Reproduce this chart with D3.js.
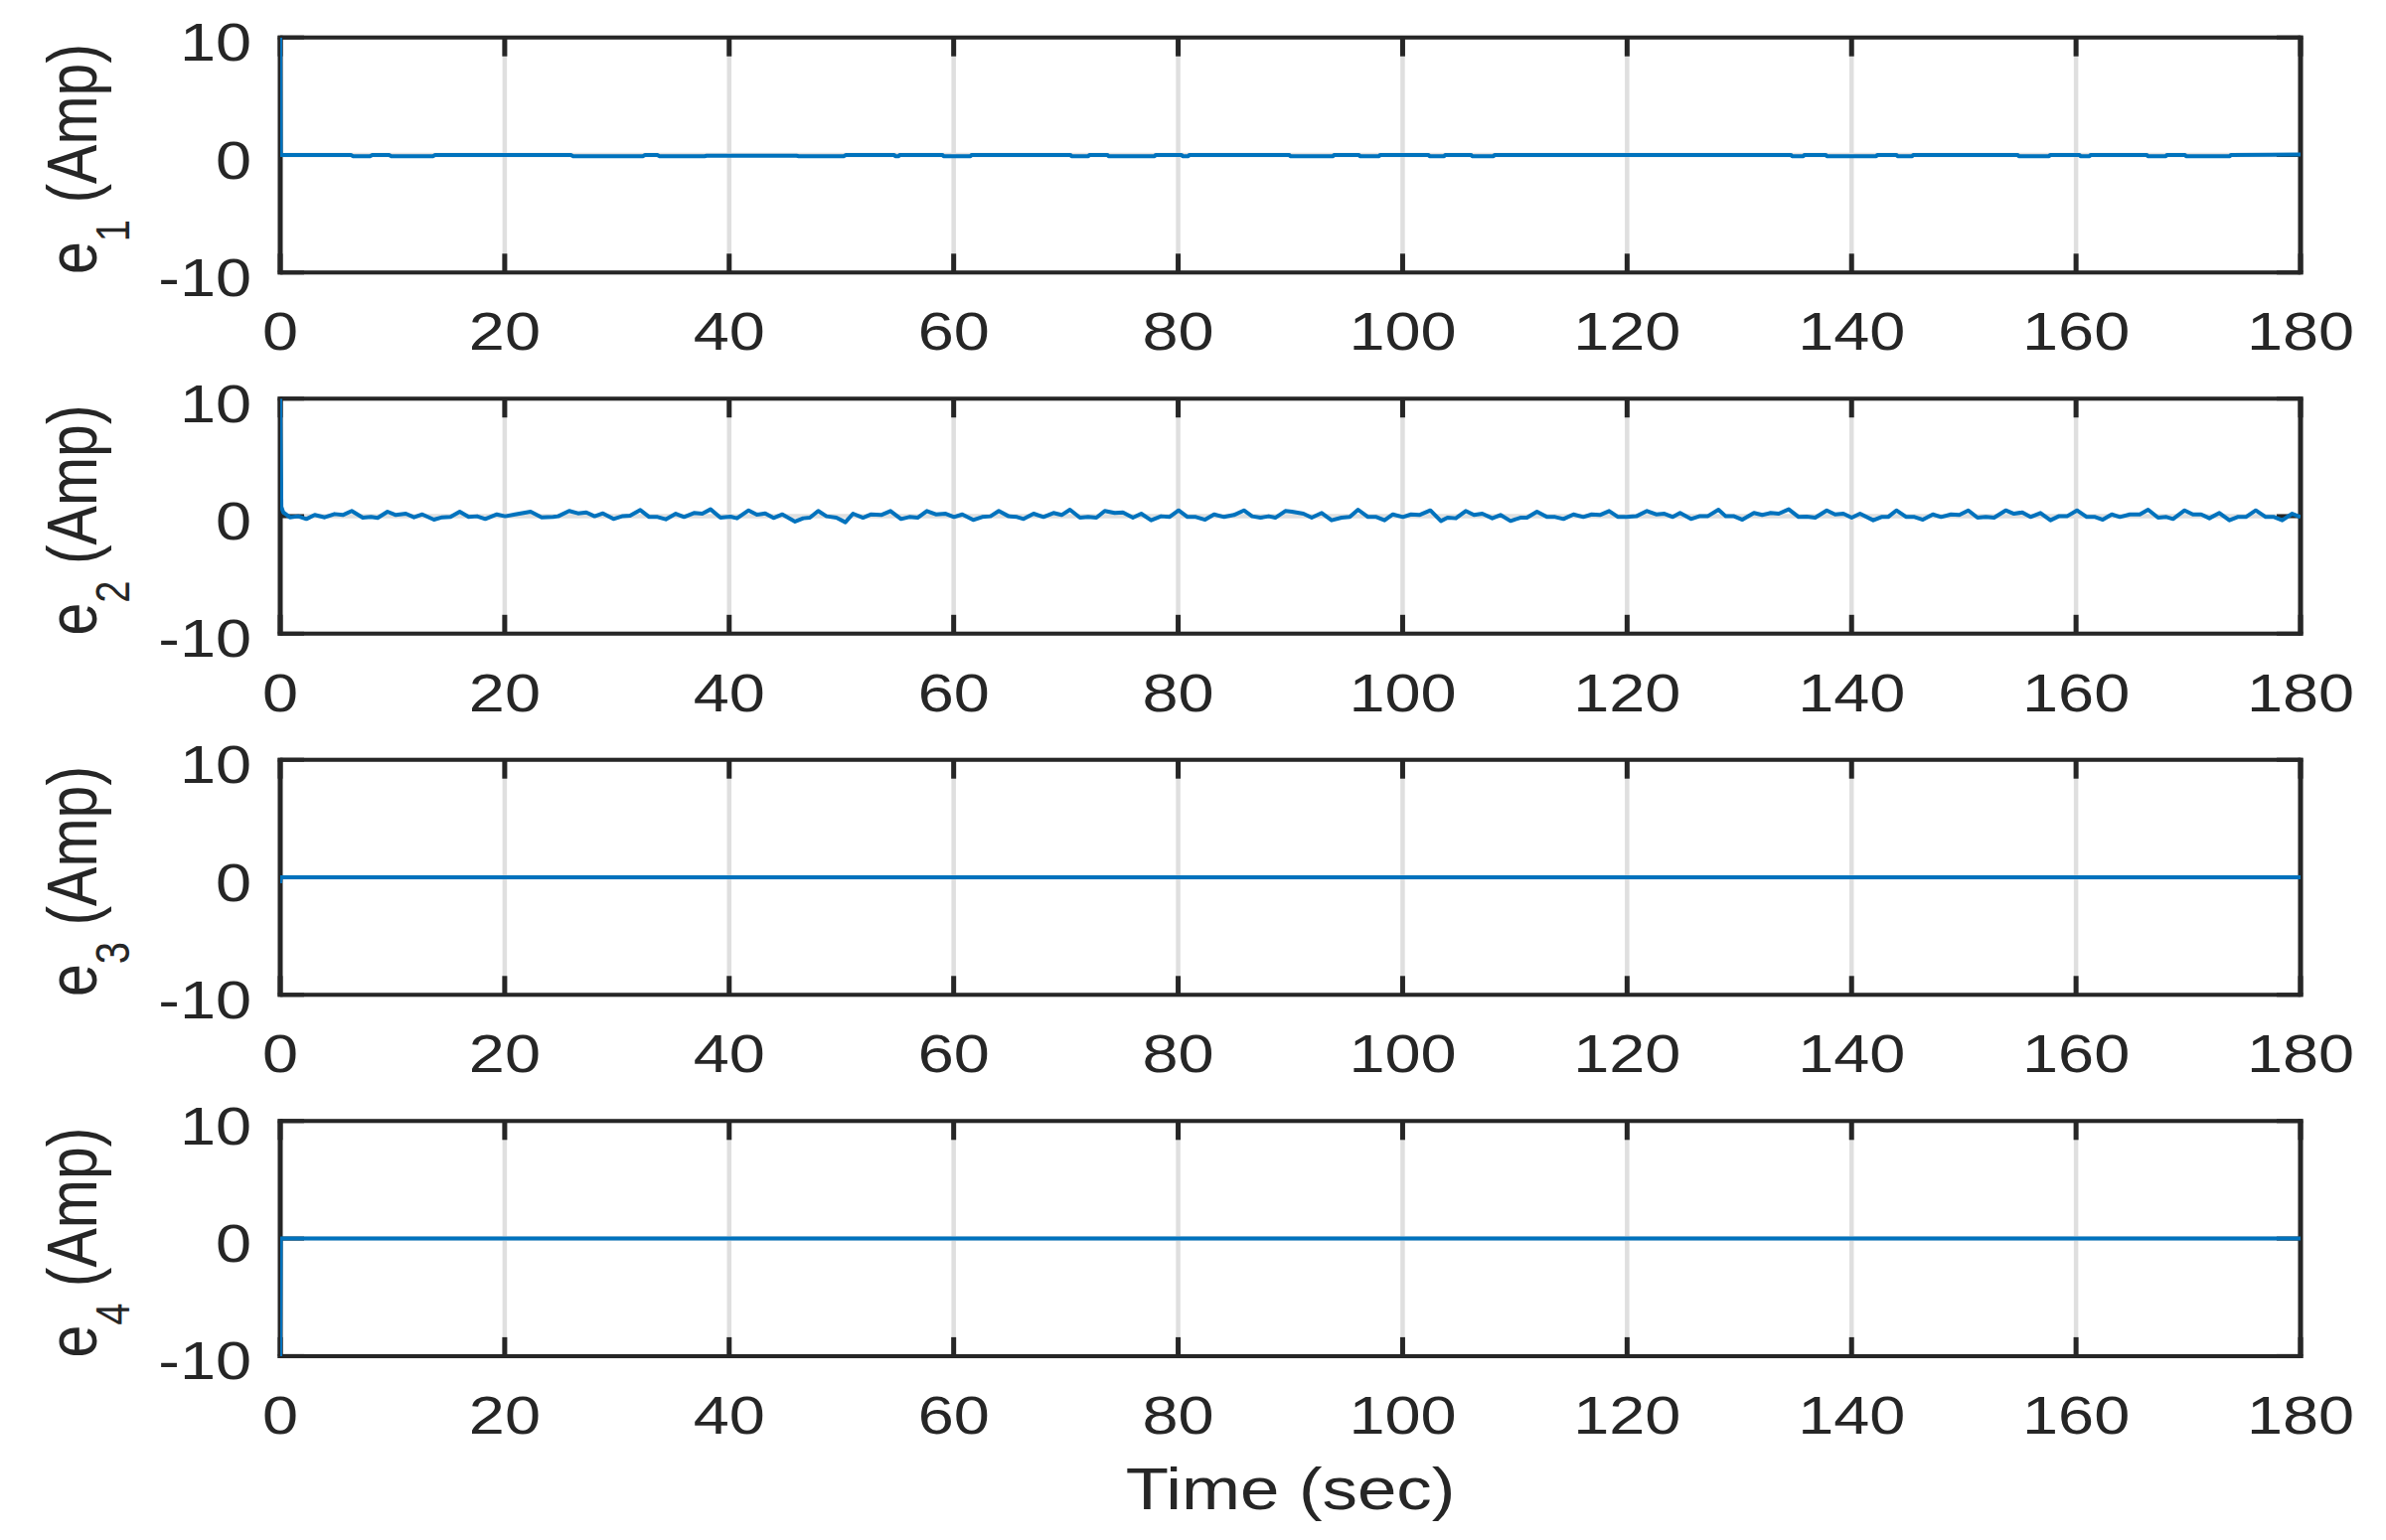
<!DOCTYPE html>
<html>
<head>
<meta charset="utf-8">
<script src="https://cdn.jsdelivr.net/npm/d3@7"></script>
<style>
html,body{margin:0;padding:0;background:#ffffff;}
svg{display:block;}
</style>
</head>
<body>
<svg id="chart" width="2401" height="1550"></svg>
<script>
// ---------------- data ----------------
const xTicks = [0, 20, 40, 60, 80, 100, 120, 140, 160, 180];
const yTicks = [-10, 0, 10];
const xTickLabels = ["0","20","40","60","80","100","120","140","160","180"];
const yTickLabels = ["-10","0","10"];
const subscripts = ["1", "2", "3", "4"];
const xAxisTitle = "Time (sec)";

// e1 (Amp): [time, value]
const e1Series = [[0,10],[0.05,0],[6.3,0],[6.5,-0.1],[8.0,-0.1],[8.2,0],[9.7,0],[9.9,-0.1],[13.6,-0.1],[13.8,0],
 [25.9,0],[26.1,-0.1],[32.3,-0.1],[32.5,0],[33.6,0],[33.8,-0.1],[37.8,-0.1],[38.0,-0.06],[46.0,-0.06],[46.2,-0.1],
 [50.2,-0.1],[50.4,0],[54.7,0],[54.8,-0.1],[55.1,-0.1],[55.2,0],[59.0,0],[59.1,-0.1],[61.5,-0.1],[61.6,0],
 [70.4,0],[70.5,-0.1],[72.0,-0.1],[72.1,0],[73.7,0],[73.8,-0.1],[77.9,-0.1],[78.0,0],[80.3,0],[80.4,-0.1],
 [80.9,-0.1],[81.0,0],[89.9,0],[90.0,-0.1],[93.8,-0.1],[93.9,0],[96.1,0],[96.2,-0.1],[97.9,-0.1],[98.0,0],
 [102.3,0],[102.4,-0.1],[103.7,-0.1],[103.8,0],[106.1,0],[106.2,-0.1],[108.1,-0.1],[108.2,0],[134.6,0],[134.7,-0.1],
 [135.7,-0.1],[135.8,0],[137.7,0],[137.8,-0.1],[142.2,-0.1],[142.3,0],[144.0,0],[144.1,-0.1],[145.4,-0.1],[145.5,0],
 [154.8,0],[154.9,-0.1],[157.6,-0.1],[157.7,0],[160.3,0],[160.4,-0.1],[161.2,-0.1],[161.3,0],[166.3,0],[166.4,-0.1],
 [168.0,-0.1],[168.1,0],[169.7,0],[169.8,-0.1],[173.7,-0.1],[173.8,0],[180,0.05]];

// e2 (Amp): [time, value]
const e2Series = [[0,10],[0.1,0.8],[0.27,0.32],[0.86,-0.1],[1.59,-0.01],[2.33,-0.24],[3.07,0.1],[3.96,-0.1],[4.84,0.18],[5.58,0.1],
 [6.37,0.44],[7.35,-0.13],[8.09,-0.07],[8.68,-0.15],[9.56,0.38],[10.3,0.1],[11.19,0.21],[11.92,-0.1],[12.66,0.15],[13.69,-0.3],
 [14.43,-0.1],[15.17,-0.07],[15.99,0.38],[16.79,-0.07],[17.53,-0.01],[18.27,-0.24],[19.3,0.15],[20.04,-0.01],[20.92,0.15],[22.31,0.38],
 [23.29,-0.1],[24.32,-0.07],[24.76,-0.01],[25.74,0.44],[26.53,0.24],[27.27,0.32],[28.01,-0.01],[28.75,0.24],[29.69,-0.24],[30.52,0.01],
 [31.17,0.04],[32.08,0.52],[32.88,-0.07],[33.62,-0.07],[34.35,-0.27],[35.24,0.21],[35.98,-0.07],[36.86,0.27],[37.6,0.21],[38.34,0.58],
 [39.22,-0.13],[40.11,-0.04],[40.7,-0.18],[41.73,0.49],[42.47,0.13],[43.21,0.24],[43.95,-0.15],[44.74,0.15],[45.87,-0.46],[46.6,-0.18],
 [47.19,-0.13],[47.93,0.44],[48.67,-0.01],[49.55,-0.13],[50.35,-0.52],[51.03,0.21],[51.92,-0.13],[52.65,0.15],[53.54,0.1],[54.37,0.44],
 [55.31,-0.24],[56.05,-0.07],[56.79,-0.13],[57.61,0.44],[58.41,0.15],[59.29,0.21],[60.03,-0.07],[60.77,0.15],[61.74,-0.32],[62.54,-0.07],
 [63.28,-0.01],[64.02,0.44],[64.9,-0.01],[65.64,-0.07],[66.23,-0.24],[67.12,0.21],[68.0,-0.07],[68.89,0.27],[69.62,0.1],[70.36,0.55],
 [71.25,-0.13],[71.98,-0.07],[72.72,-0.13],[73.46,0.44],[74.35,0.27],[75.08,0.32],[75.97,-0.13],[76.71,0.21],[77.59,-0.35],[78.48,-0.01],
 [79.22,-0.07],[80.04,0.49],[80.84,-0.07],[81.58,-0.07],[82.4,-0.3],[83.2,0.15],[84.09,-0.07],[84.97,0.1],[85.86,0.49],[86.59,-0.01],
 [87.33,-0.13],[88.07,-0.01],[88.66,-0.13],[89.55,0.44],[90.14,0.38],[91.16,0.21],[91.9,-0.13],[92.79,0.27],[93.67,-0.35],[94.56,-0.13],
 [95.29,-0.07],[96.03,0.55],[96.92,-0.07],[97.66,-0.07],[98.39,-0.35],[99.13,0.15],[100.02,-0.07],[100.75,0.15],[101.49,0.1],[102.47,0.49],
 [103.41,-0.41],[104.0,-0.13],[104.74,-0.18],[105.62,0.44],[106.36,0.1],[107.1,0.21],[107.99,-0.18],[108.72,0.1],[109.61,-0.41],[110.49,-0.13],
 [111.08,-0.13],[111.97,0.38],[112.86,-0.07],[113.59,-0.07],[114.33,-0.24],[115.22,0.15],[116.1,-0.07],[116.84,0.15],[117.58,0.1],[118.4,0.44],
 [119.2,-0.07],[119.94,-0.07],[120.82,-0.01],[121.77,0.44],[122.59,0.15],[123.33,0.21],[124.07,-0.07],[124.72,0.27],[125.69,-0.24],[126.43,-0.01],
 [127.17,-0.01],[128.14,0.55],[128.79,-0.01],[129.53,-0.01],[130.27,-0.3],[131.3,0.27],[132.04,0.1],[132.78,0.27],[133.51,0.21],[134.4,0.58],
 [135.29,-0.07],[136.0,-0.04],[136.76,-0.13],[137.79,0.49],[138.53,0.15],[139.27,0.21],[140.01,-0.13],[140.75,0.21],[141.93,-0.35],[142.66,-0.07],
 [143.25,-0.07],[143.99,0.49],[144.88,-0.07],[145.61,-0.07],[146.35,-0.3],[147.24,0.15],[147.98,-0.07],[148.86,0.15],[149.6,0.1],[150.4,0.49],
 [151.22,-0.13],[151.96,-0.07],[152.7,-0.13],[153.73,0.49],[154.47,0.21],[155.21,0.32],[155.94,-0.07],[156.83,0.27],[157.72,-0.35],[158.45,-0.01],
 [159.19,-0.01],[160.08,0.49],[160.96,-0.07],[161.7,-0.07],[162.38,-0.3],[163.18,0.15],[163.91,-0.07],[164.8,0.15],[165.68,0.15],[166.42,0.55],
 [167.31,-0.13],[168.05,-0.07],[168.64,-0.24],[169.67,0.49],[170.41,0.15],[171.15,0.15],[171.88,-0.18],[172.77,0.27],[173.66,-0.35],[174.39,-0.07],
 [175.13,-0.07],[176.01,0.49],[176.9,-0.07],[177.64,-0.07],[178.37,-0.35],[179.26,0.21],[180,-0.07]];

// e3 (Amp)
const e3Series = [[0,-0.5],[0.05,0],[180,0]];

// e4 (Amp)
const e4Series = [[0,-10],[0.05,0],[180,0]];

const allSeries = [e1Series, e2Series, e3Series, e4Series];

// ---------------- layout / style ----------------
const LEFT = 282, RIGHT = 2315;
const TOPS = [37.7, 401.2, 764.7, 1128.3];
const PH = 236.6;
const INK = "#262626";
const GRID = "#dfdfdf";
const LINE = "#0072BD";
const FONT = "'Liberation Sans', Arial, Helvetica, sans-serif";
const SX = 1.2;               // horizontal stretch of the reference
const TICK_FS = 54, LABEL_FS = 59, SUB_FS = 40;

const svg = d3.select("#chart");
svg.append("rect").attr("width", 2401).attr("height", 1550).attr("fill", "#fff");

TOPS.forEach((top, i) => {
  const x = d3.scaleLinear().domain([0, 180]).range([LEFT, RIGHT]);
  const y = d3.scaleLinear().domain([-10, 10]).range([top + PH, top]);
  const g = svg.append("g");

  // clip
  const cid = "clip" + i;
  svg.append("clipPath").attr("id", cid).append("rect")
    .attr("x", LEFT).attr("y", top).attr("width", RIGHT - LEFT).attr("height", PH);

  // grid
  g.selectAll(".vg").data(xTicks).join("line")
    .attr("x1", d => x(d)).attr("x2", d => x(d))
    .attr("y1", top).attr("y2", top + PH)
    .attr("stroke", GRID).attr("stroke-width", 4.5);
  g.selectAll(".hg").data(yTicks).join("line")
    .attr("x1", LEFT).attr("x2", RIGHT)
    .attr("y1", d => y(d)).attr("y2", d => y(d))
    .attr("stroke", GRID).attr("stroke-width", 4.5);

  // x tick marks (bottom and top, inward)
  xTicks.forEach(t => {
    g.append("line").attr("x1", x(t)).attr("x2", x(t))
      .attr("y1", top + PH).attr("y2", top + PH - 19)
      .attr("stroke", INK).attr("stroke-width", 5);
    g.append("line").attr("x1", x(t)).attr("x2", x(t))
      .attr("y1", top).attr("y2", top + 19)
      .attr("stroke", INK).attr("stroke-width", 5);
  });
  // y tick marks (left and right, inward)
  yTicks.forEach(v => {
    g.append("line").attr("x1", LEFT).attr("x2", LEFT + 24)
      .attr("y1", y(v)).attr("y2", y(v))
      .attr("stroke", INK).attr("stroke-width", 4);
    g.append("line").attr("x1", RIGHT).attr("x2", RIGHT - 24)
      .attr("y1", y(v)).attr("y2", y(v))
      .attr("stroke", INK).attr("stroke-width", 4);
  });

  // box
  g.append("line").attr("x1", LEFT - 2.5).attr("x2", RIGHT + 2.5).attr("y1", top).attr("y2", top)
    .attr("stroke", INK).attr("stroke-width", 4);
  g.append("line").attr("x1", LEFT - 2.5).attr("x2", RIGHT + 2.5).attr("y1", top + PH).attr("y2", top + PH)
    .attr("stroke", INK).attr("stroke-width", 4);
  g.append("line").attr("x1", LEFT).attr("x2", LEFT).attr("y1", top - 2).attr("y2", top + PH + 2)
    .attr("stroke", INK).attr("stroke-width", 5);
  g.append("line").attr("x1", RIGHT).attr("x2", RIGHT).attr("y1", top - 2).attr("y2", top + PH + 2)
    .attr("stroke", INK).attr("stroke-width", 5);

  // data line
  const lineGen = d3.line().x(d => x(d[0])).y(d => y(d[1]));
  g.append("path").datum(allSeries[i])
    .attr("clip-path", `url(#${cid})`)
    .attr("d", lineGen)
    .attr("fill", "none").attr("stroke", LINE)
    .attr("stroke-width", 4).attr("stroke-linejoin", "round");

  // x tick labels
  g.selectAll(".xtl").data(xTicks).join("text")
    .attr("transform", (d) => `translate(${x(d)},${top + PH + 78}) scale(${SX},1)`)
    .attr("text-anchor", "middle")
    .attr("font-family", FONT).attr("font-size", TICK_FS).attr("fill", INK)
    .text((d, k) => xTickLabels[k]);

  // y tick labels
  g.selectAll(".ytl").data(yTicks).join("text")
    .attr("transform", (d) => `translate(253,${y(d) + 23.5}) scale(${SX},1)`)
    .attr("text-anchor", "end")
    .attr("font-family", FONT).attr("font-size", TICK_FS).attr("fill", INK)
    .text((d, k) => yTickLabels[k]);

  // y axis label: e_i (Amp)
  const lab = g.append("text")
    .attr("transform", `translate(97,${top + PH / 2 + 4}) scale(${SX},1) rotate(-90)`)
    .attr("text-anchor", "middle")
    .attr("font-family", FONT).attr("font-size", LABEL_FS).attr("fill", INK);
  lab.append("tspan").text("e");
  lab.append("tspan").attr("font-size", SUB_FS).attr("dy", 27.5).text(subscripts[i]);
  lab.append("tspan").attr("dy", -27.5).text(" (Amp)");
});

// x axis title
svg.append("text")
  .attr("transform", `translate(${(LEFT + RIGHT) / 2},1519) scale(${SX},1)`)
  .attr("text-anchor", "middle")
  .attr("font-family", FONT).attr("font-size", LABEL_FS).attr("fill", INK)
  .text(xAxisTitle);
</script>
</body>
</html>
